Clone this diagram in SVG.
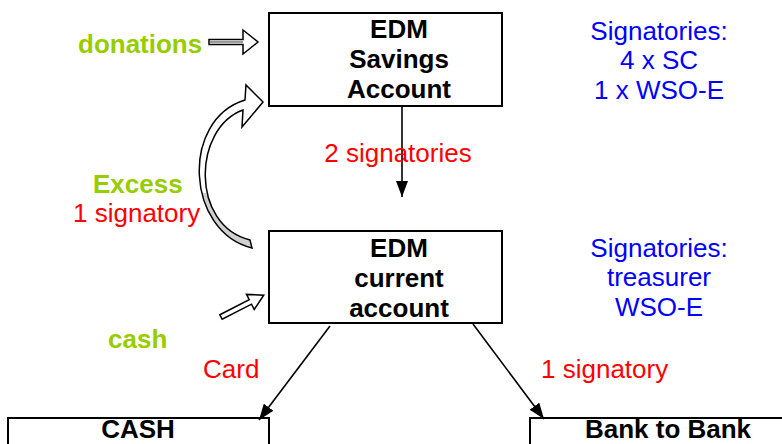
<svg xmlns="http://www.w3.org/2000/svg" width="782" height="444" viewBox="0 0 782 444">
<style>
text{font-family:"Liberation Sans",Arial,sans-serif;font-size:26px}
.b{font-weight:bold;fill:#000}
.g{font-weight:bold;fill:#99cc00}
.r{fill:#ff0000}
.u{fill:#0000ff}
.box{fill:#fff;stroke:#000;stroke-width:2}
.ln{stroke:#000;stroke-width:1.6;fill:none}
.blk{fill:#fff;stroke:#000;stroke-width:1.5;stroke-linejoin:miter}
</style>
<defs>
<marker id="ah2" viewBox="0 0 16 12" refX="16" refY="6" markerWidth="16" markerHeight="12" markerUnits="userSpaceOnUse" orient="auto">
<path d="M0,0 L16,6 L0,12 Z" fill="#000"/>
</marker>
<linearGradient id="cg" x1="0" y1="0" x2="0" y2="1">
<stop offset="0" stop-color="#fff"/>
<stop offset="0.66" stop-color="#fff"/>
<stop offset="0.66" stop-color="#d0d0d0"/>
<stop offset="1" stop-color="#d0d0d0"/>
</linearGradient>
</defs>

<g id="savings">
<rect class="box" x="269" y="13" width="233" height="93"/>
<text class="b" x="399" y="38" text-anchor="middle">EDM</text>
<text class="b" x="399" y="68" text-anchor="middle">Savings</text>
<text class="b" x="399" y="98" text-anchor="middle">Account</text>
</g>

<g id="current">
<rect class="box" x="269" y="231" width="233" height="92"/>
<text class="b" x="399" y="257" text-anchor="middle">EDM</text>
<text class="b" x="399" y="287" text-anchor="middle">current</text>
<text class="b" x="399" y="317" text-anchor="middle">account</text>
</g>

<g id="cash-box">
<rect class="box" x="8" y="418" width="261" height="40"/>
<text class="b" x="138" y="438" text-anchor="middle">CASH</text>
</g>

<g id="bank-box">
<rect class="box" x="530" y="418" width="262" height="40"/>
<text class="b" x="668" y="438" text-anchor="middle">Bank to Bank</text>
</g>

<g id="sig-savings">
<text class="u" x="659" y="40" text-anchor="middle">Signatories:</text>
<text class="u" x="659" y="69" text-anchor="middle">4 x SC</text>
<text class="u" x="659" y="99" text-anchor="middle">1 x WSO-E</text>
</g>

<g id="sig-current">
<text class="u" x="659" y="257" text-anchor="middle">Signatories:</text>
<text class="u" x="659" y="286" text-anchor="middle">treasurer</text>
<text class="u" x="659" y="316" text-anchor="middle">WSO-E</text>
</g>

<g id="donations">
<text class="g" x="78" y="53">donations</text>
<path class="blk" d="M209,39.5 L243,39.5 L243,30 L258,42 L243,54 L243,44.5 L209,44.5 Z"/>
<line x1="210" y1="42" x2="243" y2="42" stroke="#999" stroke-width="2"/>
</g>

<g id="excess">
<path d="M252,248 C186,232 180,120 245,100 L246,85 L263,102 L242,127 L243,110 C193,128 190,225 250,240 Z" fill="url(#cg)" stroke="#000" stroke-width="1.5"/>
<text class="g" x="93" y="193">Excess</text>
<text class="r" x="73" y="222">1 signatory</text>
</g>

<g id="cash-in">
<text class="g" x="108" y="348">cash</text>
<g transform="translate(221,317) rotate(-27.1)">
<path class="blk" d="M0,-2.5 L33,-2.5 L33,-8.5 L48,0 L33,8.5 L33,2.5 L0,2.5 Z"/>
</g>
</g>

<g id="connectors">
<line class="ln" x1="402" y1="106" x2="402" y2="197" marker-end="url(#ah2)"/>
<line class="ln" x1="330" y1="326" x2="259" y2="420" marker-end="url(#ah2)"/>
<line class="ln" x1="473" y1="324" x2="544" y2="419" marker-end="url(#ah2)"/>
</g>

<g id="labels">
<text class="r" x="398" y="162" text-anchor="middle">2 signatories</text>
<text class="r" x="203" y="378">Card</text>
<text class="r" x="541" y="378">1 signatory</text>
</g>
</svg>
